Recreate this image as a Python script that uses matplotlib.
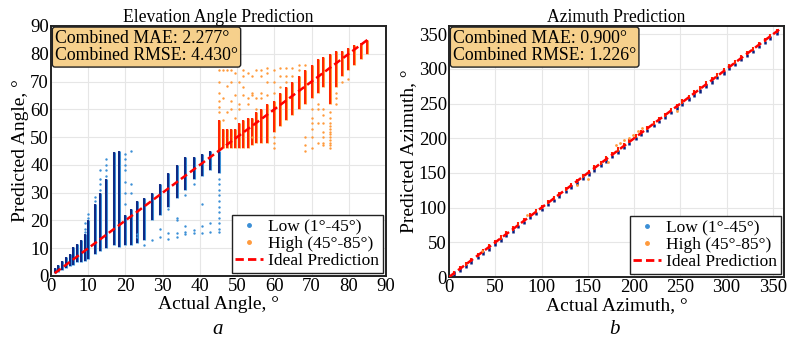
import numpy as np
import matplotlib
matplotlib.use('Agg')
import matplotlib.pyplot as plt
from matplotlib.lines import Line2D

plt.rcParams['font.family'] = ['Liberation Serif', 'DejaVu Serif']
plt.rcParams['mathtext.fontset'] = 'stix'

# ---- elevation, low group (1-45): dense column ranges + scattered points
low_x = [1, 2, 3, 4, 5, 6, 7, 8, 9, 10, 11.8, 13.2, 14.8, 16.8, 18.4, 20, 21.6, 23.2,
         25, 27, 29.3, 31.5, 33.8, 36, 38.3, 40.5, 42.7, 45]
low_lo = [1, 1.5, 2, 3, 3.5, 4, 5, 5, 5.5, 6, 8, 9, 10, 11, 10.5, 11, 11, 12,
          13, 20, 22, 25, 28, 31, 35, 36, 38, 37]
low_hi = [3, 4, 5.5, 7, 8, 10.5, 11.5, 13, 15, 20, 26, 30, 35, 44.5, 45, 22, 24, 27,
          28, 30, 33, 37, 40, 43, 43, 44, 45, 45]
low_out_x = [9, 9, 9, 10, 10, 11.8, 11.8, 13.2, 13.2, 13.2, 13.2, 14.8, 14.8, 14.8, 14.8,
             20, 20, 20, 20, 20, 20, 20, 21.6, 21.6, 21.6, 23.2, 23.2, 25, 27,
             29.3, 29.3, 31.5, 31.5, 31.5, 33.8, 33.8, 33.8, 33.8, 36, 36, 36, 36,
             38.3, 38.3, 38.3, 40.5, 40.5, 40.5, 42.7, 42.7,
             45, 45, 45, 45, 45, 45, 45, 45, 45, 45, 45]
low_out_y = [16, 17, 19, 21, 22.5, 27, 28.5, 31, 33, 35, 38, 36, 38, 40, 42,
             26, 30, 34, 38, 40, 42, 44, 30, 33, 45, 15, 14, 11, 13,
             17, 14, 24, 15.5, 13.5, 21, 20, 15.5, 14, 29, 18, 16, 15,
             33, 16.5, 15.5, 26, 18, 15.5, 19, 16,
             35, 33, 31, 29, 27, 25, 23, 21, 19, 17, 16]

# ---- elevation, high group (45-85)
high_x = [45, 46.1, 47.2, 48.3, 49.5, 50.6, 51.7, 52.8, 53.9, 55.1, 56.5, 58.1, 59.8, 61.4,
          63.2, 64.7, 66.5, 68.3, 70.1, 71.6, 73.2, 75, 76.6, 78.1, 79.9, 81.5, 83.3, 84.9]
high_lo = [45.5, 46, 46, 46, 46, 46, 46, 46, 47, 48, 48, 48, 52, 54,
           56, 58, 60, 62, 64, 66, 68, 62, 68, 72, 74, 76, 78, 80]
high_hi = [56, 53, 53, 53, 53, 55, 56, 57, 57, 59, 60, 62, 63, 66,
           68, 70, 72, 74, 76, 78, 79, 80, 81, 81, 82, 83, 84, 85]
high_out_x = [45, 45, 45, 45, 45, 45, 46.1, 46.1, 46.1, 47.2, 47.2, 47.2, 48.3, 48.3, 48.3, 48.3,
              49.5, 49.5, 49.5, 50.6, 50.6, 50.6, 51.7, 51.7, 51.7, 51.7, 52.8, 52.8, 52.8,
              53.9, 53.9, 53.9, 53.9, 55.1, 55.1, 55.1, 56.5, 56.5, 56.5, 56.5,
              58.1, 58.1, 58.1, 58.1, 59.8, 59.8, 59.8, 59.8, 59.8, 59.8, 61.4, 61.4, 61.4,
              63.2, 63.2, 63.2, 64.7, 64.7, 66.5, 66.5, 68.3, 68.3, 68.3, 68.3,
              70.1, 70.1, 70.1, 70.1, 70.1, 70.1, 71.6, 71.6, 71.6, 71.6,
              73.2, 73.2, 73.2, 73.2, 73.2, 73.2, 73.2,
              75, 75, 75, 75, 75, 75, 75, 75, 75, 75, 75, 75,
              76.6, 76.6, 76.6, 78.1, 79.9]
high_out_y = [59, 61, 63, 66, 70, 74, 56, 64, 74, 59, 68.5, 74, 60, 63, 70, 74,
              57, 65, 73, 60, 62, 70, 65, 68, 72, 74, 62, 64, 73,
              50, 65, 66, 72, 60, 64, 74, 64, 66, 72, 74,
              65, 70, 73, 75, 46, 48, 50, 66, 70, 74, 68, 72, 75,
              70, 72, 75, 72, 75, 74, 76, 45, 47, 50, 76,
              46, 50, 53, 55, 57, 60, 48, 55, 60, 62,
              47, 48, 50, 52, 55, 58, 60,
              46, 47, 48, 49, 50, 51, 52, 53, 54, 55, 57, 59,
              62, 64, 66, 70, 71]

# ---- azimuth
az_x = [5, 12, 18, 24, 31, 37, 43, 50, 56, 62, 69, 75, 81, 88, 94, 100, 107, 113, 119, 126,
        132, 138, 145, 151, 157, 164, 170, 176, 183, 189, 195, 202, 208, 214, 221, 227, 233,
        240, 246, 252, 259, 265, 271, 278, 284, 290, 297, 303, 309, 316, 322, 328, 335, 341,
        347, 354]
az_low_lo = [1, 7, 13, 19, 26, 32, 38, 45, 51, 57, 64, 70, 76, 83, 89, 95, 102, 108, 114, 121,
             127, 133, 140, 146, 152, 159, 165, 171, 178, 184, 190, 197, 203, 209, 216, 222, 228,
             235, 241, 247, 254, 260, 266, 273, 279, 285, 292, 298, 304, 311, 317, 323, 330, 336,
             342, 349]
az_low_hi = [8, 13, 19, 25, 31, 37, 43, 50, 56, 62, 69, 75, 81, 88, 94, 100, 107, 113, 119, 126,
             132, 138, 145, 151, 157, 164, 170, 176, 183, 189, 195, 202, 208, 214, 221, 227, 233,
             240, 246, 252, 259, 265, 271, 278, 284, 290, 297, 303, 309, 316, 322, 328, 335, 341,
             347, 358]
az_high_lo = [3, 10, 16, 22, 29, 35, 41, 48, 54, 60, 67, 73, 79, 86, 92, 98, 105, 111, 117, 124,
              130, 136, 143, 149, 155, 162, 168, 174, 181, 187, 193, 200, 206, 212, 219, 225, 231,
              238, 244, 250, 257, 263, 269, 276, 282, 288, 295, 301, 307, 314, 320, 326, 333, 339,
              345, 352]
az_high_hi = [9, 16, 22, 28, 35, 41, 47, 54, 60, 66, 73, 79, 85, 92, 98, 104, 111, 117, 123, 130,
              136, 142, 149, 155, 161, 168, 174, 180, 187, 193, 199, 206, 212, 218, 225, 231, 237,
              244, 250, 256, 263, 269, 275, 282, 288, 294, 301, 307, 313, 320, 326, 332, 339, 345,
              351, 358]
az_out_x = [36, 84, 138, 150, 172, 180, 185, 189, 194, 199, 204, 209, 246]
az_out_y = [38, 89, 132, 142, 166, 191, 193, 197, 201, 205, 210, 215, 240]

LIGHT_BLUE = '#3b8fd6'
NAVY = '#0a1f7d'
ORANGE = '#ff9a3c'
RED = '#ff2200'
BOX = '#f6d08c'

fig = plt.figure(figsize=(7.87, 3.42), dpi=100)
ax1 = fig.add_axes([51/787, 1 - 276/342, 335/787, 250/342])
ax2 = fig.add_axes([449/787, 1 - 277/342, 335/787, 251/342])

def style(ax):
    ax.grid(True, color='#e6e6e6', linewidth=0.8)
    ax.set_axisbelow(True)
    for s in ax.spines.values():
        s.set_linewidth(1.4)
        s.set_color('#222222')
    ax.tick_params(length=0, pad=1.5, labelsize=13.5)

# left panel
ax1.vlines(low_x, low_lo, low_hi, color=LIGHT_BLUE, linewidth=2.2, zorder=2)
ax1.vlines(low_x, low_lo, low_hi, color=NAVY, linewidth=1.3, zorder=3)
ax1.scatter(low_out_x, low_out_y, s=3, color=LIGHT_BLUE, linewidths=0, zorder=3)
ax1.vlines(high_x, high_lo, high_hi, color=ORANGE, linewidth=2.2, zorder=2)
ax1.vlines(high_x, high_lo, high_hi, color=RED, linewidth=1.4, zorder=3)
ax1.scatter(high_out_x, high_out_y, s=3, color=ORANGE, linewidths=0, zorder=3)
ax1.plot([1, 85], [1, 85], '--', color='red', linewidth=1.8, dashes=(3, 1.5), zorder=4)
ax1.set_xlim(0, 90)
ax1.set_ylim(0, 90)
ax1.set_xticks(range(0, 91, 10))
ax1.set_yticks(range(0, 91, 10))
style(ax1)
ax1.set_title('Elevation Angle Prediction', fontsize=12.7, pad=3)
ax1.set_xlabel('Actual Angle, °', fontsize=14, labelpad=1)
ax1.set_ylabel('Predicted Angle, °', fontsize=14, labelpad=1)
ax1.text(0.012, 0.985, 'Combined MAE: 2.277°\nCombined RMSE: 4.430°', transform=ax1.transAxes,
         va='top', ha='left', fontsize=12.8, linespacing=1.05, zorder=6,
         bbox=dict(boxstyle='round,pad=0.15,rounding_size=0.15', facecolor=BOX, edgecolor='#222222', linewidth=1.0))

# right panel
ax2.vlines(az_x, az_low_lo, az_low_hi, color=NAVY, linewidth=1.8, zorder=2)
ax2.vlines(az_x, az_high_lo, az_high_hi, color=RED, linewidth=1.5, zorder=3)
ax2.scatter(az_out_x, az_out_y, s=4, color=ORANGE, linewidths=0, zorder=3)
ax2.plot([0, 360], [0, 360], '--', color='red', linewidth=1.8, dashes=(3, 1.5), zorder=4)
ax2.set_xlim(0, 362)
ax2.set_ylim(0, 362)
ax2.set_xticks(range(0, 351, 50))
ax2.set_yticks(range(0, 351, 50))
style(ax2)
ax2.set_title('Azimuth Prediction', fontsize=12.7, pad=3)
ax2.set_xlabel('Actual Azimuth, °', fontsize=14, labelpad=1)
ax2.set_ylabel('Predicted Azimuth, °', fontsize=14, labelpad=1)
ax2.text(0.012, 0.985, 'Combined MAE: 0.900°\nCombined RMSE: 1.226°', transform=ax2.transAxes,
         va='top', ha='left', fontsize=12.8, linespacing=1.05, zorder=6,
         bbox=dict(boxstyle='round,pad=0.15,rounding_size=0.15', facecolor=BOX, edgecolor='#222222', linewidth=1.0))

handles = [Line2D([], [], marker='o', linestyle='none', markersize=2.5, color=LIGHT_BLUE),
           Line2D([], [], marker='o', linestyle='none', markersize=2.5, color=ORANGE),
           Line2D([], [], color='red', linestyle='--', linewidth=2, dashes=(3, 1.5))]
labels = ['Low (1°-45°)', 'High (45°-85°)', 'Ideal Prediction']
for ax in (ax1, ax2):
    leg = ax.legend(handles, labels, loc='lower right', fontsize=12.5, fancybox=False,
                    framealpha=1, borderpad=0.2, labelspacing=0.05, handlelength=1.6,
                    handletextpad=0.3, borderaxespad=0.2)
    leg.get_frame().set_edgecolor('#222222')
    leg.get_frame().set_linewidth(1.0)
    leg.set_zorder(6)

fig.text(218/787, 1 - 330/342, 'a', fontsize=15, style='italic', ha='center', va='center')
fig.text(614/787, 1 - 330/342, 'b', fontsize=15, style='italic', ha='center', va='center')

fig.savefig('out.png', dpi=100)
